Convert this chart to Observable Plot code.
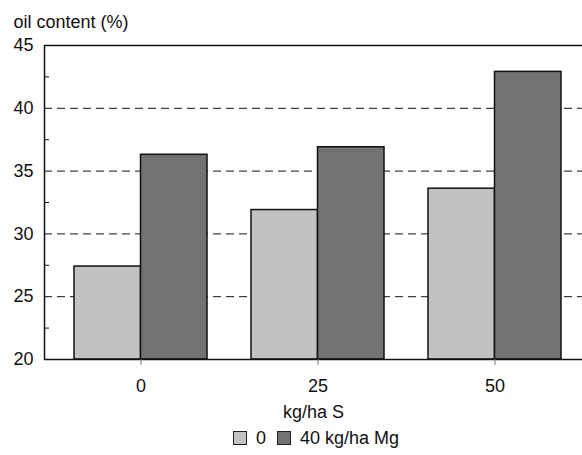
<!DOCTYPE html>
<html><head><meta charset="utf-8">
<script src="https://cdn.jsdelivr.net/npm/d3@7"></script>
<script src="https://cdn.jsdelivr.net/npm/@observablehq/plot@0.6"></script>
<style>
html{overflow:hidden;}
html,body{margin:0;padding:0;background:#fff;}
body{font-family:"Liberation Sans",Arial,Helvetica,sans-serif;color:#111;}
#chart svg{display:block;}
#legend{height:26px;padding-bottom:4px;display:flex;align-items:center;padding-left:233px;font-size:18px;}
.sw{width:12px;height:12px;border:1.5px solid #222;display:inline-block;margin-right:9px;}
.item{display:flex;align-items:center;margin-right:11px;}
</style></head><body>
<div id="chart"></div>
<div id="legend"></div>
<script>
const sulfur = ["0", "25", "50"];
const oilNoMg = [27.4, 31.9, 33.6];
const oilMg40 = [36.3, 36.9, 42.9];
const seriesNames = ["0", "40 kg/ha Mg"];
const seriesColors = ["#c2c2c2", "#727272"];
const yTicks = [20, 25, 30, 35, 40, 45];
const yMinorTicks = [22.5, 27.5, 32.5, 37.5, 42.5];
const gridValues = [25, 30, 35, 40];
const yTitle = "oil content (%)";
const xTitle = "kg/ha S";

const data = sulfur.map((s, i) => ({S: s, noMg: oilNoMg[i], mg40: oilMg40[i]}));

const chart = Plot.plot({
  width: 582,
  height: 425,
  marginTop: 45,
  marginBottom: 66,
  marginLeft: 44,
  marginRight: 0,
  style: {fontSize: "18px", fontFamily: '"Liberation Sans", Arial, sans-serif', color: "#111", background: "#fff"},
  x: {domain: sulfur, range: [44, 591], paddingInner: 44 / 177, paddingOuter: 30 / 177, axis: null},
  y: {domain: [20, 45], axis: null},
  marks: [
    Plot.gridY(gridValues, {stroke: "#111", strokeOpacity: 1, strokeWidth: 1, strokeDasharray: "8,5"}),
    Plot.barY(data, {x: "S", y1: 20, y2: "noMg", fill: seriesColors[0], stroke: "#111", strokeWidth: 1.5, insetRight: 66.5}),
    Plot.barY(data, {x: "S", y1: 20, y2: "mg40", fill: seriesColors[1], stroke: "#111", strokeWidth: 1.5, insetLeft: 66.5}),
    Plot.frame({stroke: "#111", strokeWidth: 1.5, insetRight: -10}),
    Plot.axisY({ticks: yTicks, tickSize: 0, tickPadding: 11, label: null}),
    Plot.axisY({ticks: yMinorTicks, tickSize: -5, tickFormat: () => "", label: null, stroke: "#111"}),
    Plot.axisX({tickSize: 6, tickPadding: 14, stroke: "#777", label: xTitle, labelAnchor: "center", labelOffset: 58}),
    Plot.text([yTitle], {frameAnchor: "top-left", dx: -31, dy: -18, textAnchor: "start", lineAnchor: "bottom", text: d => d, fill: "#111"})
  ]
});
document.getElementById("chart").appendChild(chart);

const legend = document.getElementById("legend");
seriesNames.forEach((name, i) => {
  const item = document.createElement("span");
  item.className = "item";
  const sw = document.createElement("span");
  sw.className = "sw";
  sw.style.background = seriesColors[i];
  item.appendChild(sw);
  item.appendChild(document.createTextNode(name));
  legend.appendChild(item);
});
</script>
</body></html>
